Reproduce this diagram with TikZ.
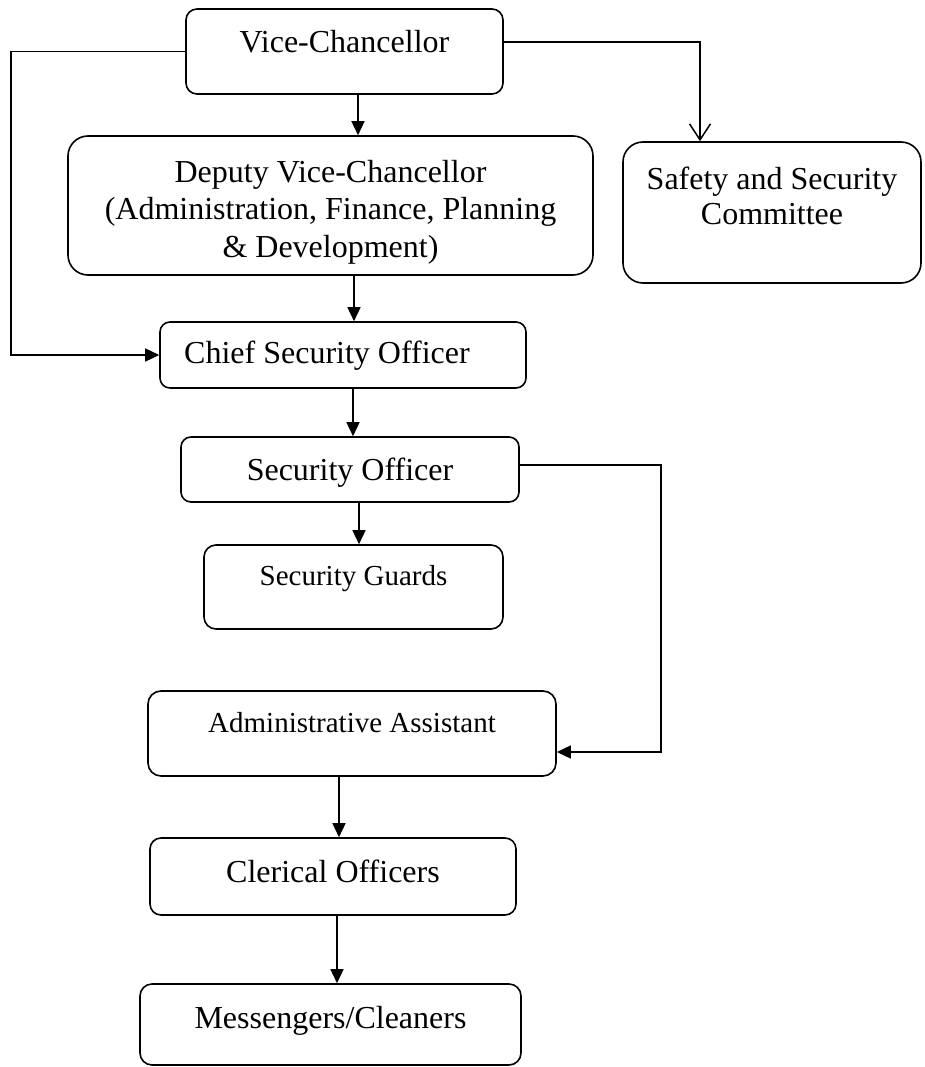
\documentclass[tikz,border=0pt]{standalone}
\usepackage{fontspec}
\setmainfont{Liberation Serif}
\usepackage{tikz}
\usetikzlibrary{positioning,arrows.meta}
\tikzset{
  orgbox/.style={draw, line width=1.6pt, rounded corners=#1, inner sep=0pt,
    font=\fontsize{32}{37}\selectfont},
  orgbox/.default=11pt,
  smallbox/.style={orgbox=#1, font=\fontsize{29}{34}\selectfont},
  smallbox/.default=12pt,
  link/.style={line width=1.5pt},
  tipfill/.style={link, -{Triangle[length=14pt,width=13pt]}},
  tipopen/.style={link, -{Straight Barb[length=16pt,width=21pt]}},
}

\begin{document}
\begin{tikzpicture}[x=1pt,y=-1pt]
  \useasboundingbox (0,0) rectangle (924,1067);
  \node[orgbox, minimum width=317pt, minimum height=85pt,
    text height=44pt, text depth=41pt] (vc) at (344.5,51.5) {Vice-Chancellor};
  \node[orgbox=20pt, minimum width=525pt, minimum height=139pt, align=center,
    text height=121pt, text depth=18pt] (dvc) at (330.5,205.5)
    {Deputy Vice-Chancellor\\(Administration, Finance, Planning\\\& Development)};
  \node[orgbox=20pt, minimum width=298pt, minimum height=141pt, align=center,
    font=\fontsize{32}{35}\selectfont, text height=83pt, text depth=58pt]
    (ssc) at (772,212.5) {Safety and Security\\Committee};
  \node[orgbox=10pt, minimum width=366pt, minimum height=66pt,
    text height=41pt, text depth=25pt] (cso) at (343,355)
    {Chief Security Officer\hspace*{32pt}};
  \node[orgbox=10pt, minimum width=338pt, minimum height=65pt,
    text height=43pt, text depth=22pt] (so) at (350,469.5) {Security Officer};
  \node[smallbox, minimum width=299pt, minimum height=84pt,
    text height=40pt, text depth=44pt] (sg) at (353.5,587) {Security Guards};
  \node[smallbox=13pt, minimum width=408pt, minimum height=85pt,
    text height=41pt, text depth=44pt] (aa) at (352,733.5) {Administrative Assistant};
  \node[orgbox, minimum width=366pt, minimum height=77pt,
    text height=44pt, text depth=33pt] (co) at (333,876.5) {Clerical Officers};
  \node[orgbox=12pt, minimum width=381pt, minimum height=81pt,
    text height=44pt, text depth=37pt] (mc) at (330.5,1024.5) {Messengers/Cleaners};

  \draw[tipfill] (vc.south -| 358,0) -- (dvc.north -| 358,0);
  \draw[tipfill] (dvc.south -| 354,0) -- (cso.north -| 354,0);
  \draw[tipfill] (cso.south -| 353,0) -- (so.north -| 353,0);
  \draw[tipfill] (so.south -| 359,0) -- (sg.north -| 359,0);
  \draw[tipfill] (aa.south -| 339,0) -- (co.north -| 339,0);
  \draw[tipfill] (co.south -| 337,0) -- (mc.north -| 337,0);

  \draw[tipfill] (vc.west) -- ++(-174,0) |- (cso.west);
  \draw[tipopen] (vc.east |- 0,42) -| (ssc.north -| 700,0);
  \draw[tipfill] (so.east |- 0,465) -- (661,465) |- (aa.east |- 0,752);
\end{tikzpicture}
\end{document}
